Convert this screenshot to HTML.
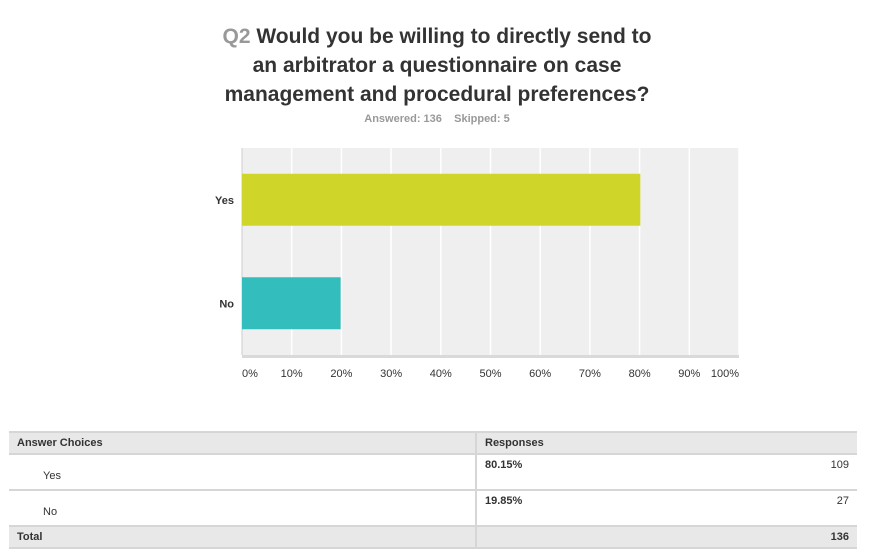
<!DOCTYPE html>
<html><head><meta charset="utf-8"><style>
body{margin:0;width:874px;height:553px;background:#fff;font-family:"Liberation Sans",Arial,sans-serif;position:relative;overflow:hidden}
#title{position:absolute;top:22px;left:0;width:874px;text-align:center;font-size:21px;font-weight:bold;color:#333;line-height:29px}
#title .q{color:#999}
#sub{position:absolute;top:113px;width:874px;text-align:center;font-size:11px;font-weight:bold;color:#999}
table{position:absolute;left:9px;top:431px;width:848px;border-collapse:collapse;font-size:11px;color:#333}
td{padding:0 8px;border-top:2px solid #d6d6d6;border-bottom:2px solid #d6d6d6}
.h td{background:#e8e8e8;font-weight:bold;height:20px}
.r td{height:26px}
td.div{border-left:2px solid #d6d6d6}
</style></head><body>
<div id="title"><span class="q">Q2</span> Would you be willing to directly send to<br>an arbitrator a questionnaire on case<br>management and procedural preferences?</div>
<div id="sub">Answered: 136 &nbsp;&nbsp; Skipped: 5</div>
<svg id="chart" width="874" height="400" style="position:absolute;left:0;top:0"></svg>
<table>
<tr class="h"><td style="width:450px">Answer Choices</td><td class="div" colspan="2">Responses</td></tr>
<tr class="r"><td style="padding-left:34px;padding-top:8px">Yes</td><td class="div" style="font-weight:bold;vertical-align:top;padding-top:4px">80.15%</td><td style="text-align:right;vertical-align:top;padding-top:4px">109</td></tr>
<tr class="r"><td style="padding-left:34px;padding-top:8px">No</td><td class="div" style="font-weight:bold;vertical-align:top;padding-top:4px">19.85%</td><td style="text-align:right;vertical-align:top;padding-top:4px">27</td></tr>
<tr class="h"><td>Total</td><td class="div"></td><td style="text-align:right">136</td></tr>
</table>
<script>
const categories=["Yes","No"];
const values=[80.15,19.85];
const ticks=[0,10,20,30,40,50,60,70,80,90,100];
const colors=["#d0d52a","#33bdbd"];
const NS="http://www.w3.org/2000/svg";
const svg=document.getElementById('chart');
const X0=242,X1=739,Y0=148,Y1=355;
const x=v=>X0+(X1-X0)*v/100;
const band=(Y1-Y0)/categories.length;
function mk(t,a){const e=document.createElementNS(NS,t);for(const k in a)e.setAttribute(k,a[k]);svg.appendChild(e);return e;}
let bg=mk('rect',{x:X0,y:Y0,width:X1-X0,height:Y1-Y0,fill:'#efefef'});


ticks.forEach(t=>{
 if(t>0){let g=mk('line',{x1:x(t),x2:x(t),y1:Y0,y2:Y1,stroke:'#fff','stroke-width':1.5});
 
 }
 let l=mk('text',{x:x(t)+(t==0?8:t==100?-14:0),y:377,'font-size':11,fill:'#333','text-anchor':'middle'});
 l.textContent=t+'%';
 
 
});
let ax=mk('rect',{x:X0,y:Y1,width:X1-X0,height:3,fill:'#d9d9d9'});


let ay=mk('line',{x1:X0,x2:X0,y1:Y0,y2:Y1,stroke:'#ccc'});


categories.forEach((c,i)=>{
 const cy=Y0+band*(i+0.5);
 let b=mk('rect',{x:X0,y:cy-26,width:x(values[i])-X0,height:52,fill:colors[i]});
 
 
 let l=mk('text',{x:234,y:cy+4,'font-size':11,'font-weight':'bold',fill:'#333','text-anchor':'end'});
 l.textContent=c;
 
 
});
</script>
</body></html>
